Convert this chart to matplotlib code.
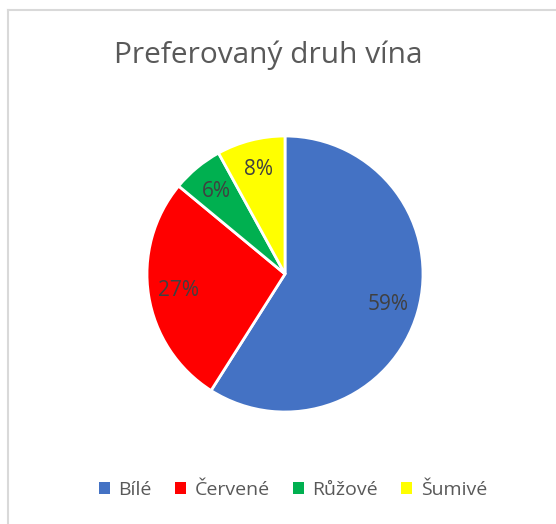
import matplotlib.pyplot as plt
from matplotlib.lines import Line2D
from matplotlib.patches import Patch

title = "Preferovaný druh vína"
labels = ["Bílé", "Červené", "Růžové", "Šumivé"]
values = [59, 27, 6, 8]
colors = ["#4472C4", "#FF0000", "#00B050", "#FFFF00"]

plt.rcParams["font.family"] = ["Open Sans", "DejaVu Sans"]

fig = plt.figure(figsize=(5.56, 5.24), dpi=100)

# chart frame (only top and left edges visible in the crop)
fig.add_artist(Line2D([8 / 556, 1], [1 - 10 / 524, 1 - 10 / 524], color="#D9D9D9", lw=1.5))
fig.add_artist(Line2D([8 / 556, 8 / 556], [0, 1 - 10 / 524], color="#D9D9D9", lw=1.5))

ax = fig.add_axes([(285 - 138) / 556, (524 - 274 - 138) / 524, 276 / 556, 276 / 524])
wedges, texts, autotexts = ax.pie(
    values,
    colors=colors,
    startangle=90,
    counterclock=False,
    autopct="%1.0f%%",
    pctdistance=0.78,
    wedgeprops=dict(edgecolor="white", linewidth=2),
    textprops=dict(color="#404040", fontsize=15),
)
ax.set_xlim(-1, 1)
ax.set_ylim(-1, 1)
ax.set_aspect("equal")

fig.text(0.483, 1 - 55 / 524, title, ha="center", va="center", fontsize=21.5, color="#595959")

handles = [Patch(facecolor=c, edgecolor="none") for c in colors]
fig.legend(
    handles,
    labels,
    loc="center",
    bbox_to_anchor=(0.527, 1 - 490 / 524),
    ncol=4,
    frameon=False,
    fontsize=14,
    labelcolor="#595959",
    handlelength=0.55,
    handleheight=0.55,
    handletextpad=0.45,
    columnspacing=1.2,
)

fig.savefig("out.png", dpi=100)
